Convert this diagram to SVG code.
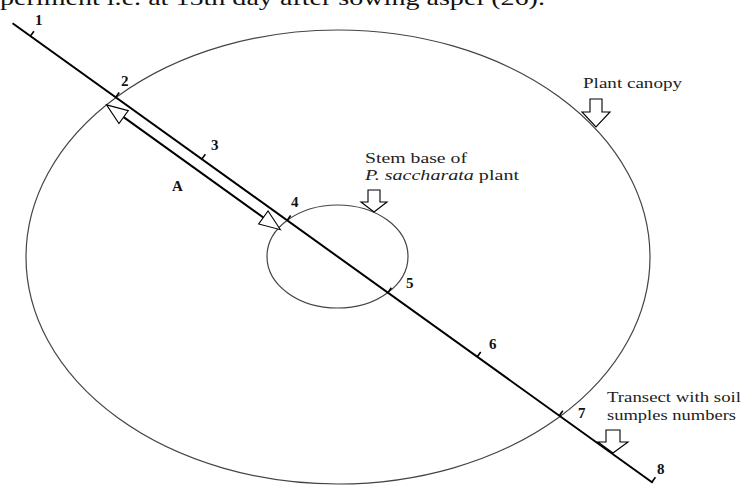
<svg xmlns="http://www.w3.org/2000/svg" width="742" height="486" viewBox="0 0 742 486">
<style>
.ell{fill:none;stroke:#444;stroke-width:1.2}
.tr{stroke:#000;stroke-width:2;fill:none}
.tick{stroke:#000;stroke-width:1.6}
.harr{fill:#fff;stroke:#000;stroke-width:1.1}
.num{font-family:"Liberation Serif",serif;font-weight:bold;font-size:15px;fill:#111}
.lbl{font-family:"Liberation Serif",serif;font-size:15px;fill:#222}
.top{font-family:"Liberation Serif",serif;font-size:22px;fill:#111}
</style>
<rect width="742" height="486" fill="#fff"/>
<text class="top" x="0" y="5" textLength="545" lengthAdjust="spacingAndGlyphs">periment i.e. at 15th day after sowing aspel (26).</text>
<g id="canopy">
<ellipse class="ell" cx="338" cy="257" rx="312" ry="227"/>
</g>
<g id="stem">
<ellipse class="ell" cx="337.5" cy="256.5" rx="70.5" ry="51.5"/>
</g>
<g id="connectors">
<g transform="translate(337.5,256.5) rotate(35.67)">
<line class="tr" x1="-400" y1="0" x2="388" y2="0"/>
<line class="tick" x1="-378" y1="0" x2="-378" y2="-6"/>
<line class="tick" x1="-273" y1="0" x2="-273" y2="-6"/>
<line class="tick" x1="-167" y1="0" x2="-167" y2="-6"/>
<line class="tick" x1="-62" y1="0" x2="-62" y2="-6"/>
<line class="tick" x1="62" y1="0" x2="62" y2="-6"/>
<line class="tick" x1="172" y1="0" x2="172" y2="-6"/>
<line class="tick" x1="273" y1="0" x2="273" y2="-6"/>
<line class="tick" x1="387" y1="0" x2="387" y2="-6"/>
<g id="arrowA">
<line class="tr" x1="-255" y1="11.5" x2="-83" y2="11.5"/>
<polygon class="harr" points="-276,11.5 -255,3.5 -255,19.5" stroke-width="1.8"/>
<polygon class="harr" points="-62,11.5 -83,3.5 -83,19.5" stroke-width="1.8"/>
</g>
</g>
</g>
<g id="labels">
<text class="num" x="35" y="25">1</text>
<text class="num" x="121" y="86">2</text>
<text class="num" x="211" y="150">3</text>
<text class="num" x="172" y="191">A</text>
<text class="num" x="291" y="207">4</text>
<text class="num" x="406" y="288">5</text>
<text class="num" x="489" y="349">6</text>
<text class="num" x="578" y="418">7</text>
<text class="num" x="657" y="474">8</text>
</g>
<g id="note-canopy">
<text class="lbl" x="583" y="88" textLength="99" lengthAdjust="spacingAndGlyphs">Plant canopy</text>
<polygon class="harr" points="590,99 602,99 602,112 610,112 596,127 582,112 590,112"/>
</g>
<g id="note-stem">
<text class="lbl" x="365" y="163" textLength="102" lengthAdjust="spacingAndGlyphs">Stem base of</text>
<text class="lbl" x="365" y="180" textLength="154" lengthAdjust="spacingAndGlyphs"><tspan font-style="italic">P. saccharata</tspan> plant</text>
<polygon class="harr" points="368,190 380,190 380,202 387,202 374,212 361,202 368,202"/>
</g>
<g id="note-transect">
<text class="lbl" x="607" y="402" textLength="134" lengthAdjust="spacingAndGlyphs">Transect with soil</text>
<text class="lbl" x="607" y="420" textLength="129" lengthAdjust="spacingAndGlyphs">sumples numbers</text>
<polygon class="harr" points="606,430 620,430 620,442 628,442 613,453 598,442 606,442"/>
</g>
</svg>
